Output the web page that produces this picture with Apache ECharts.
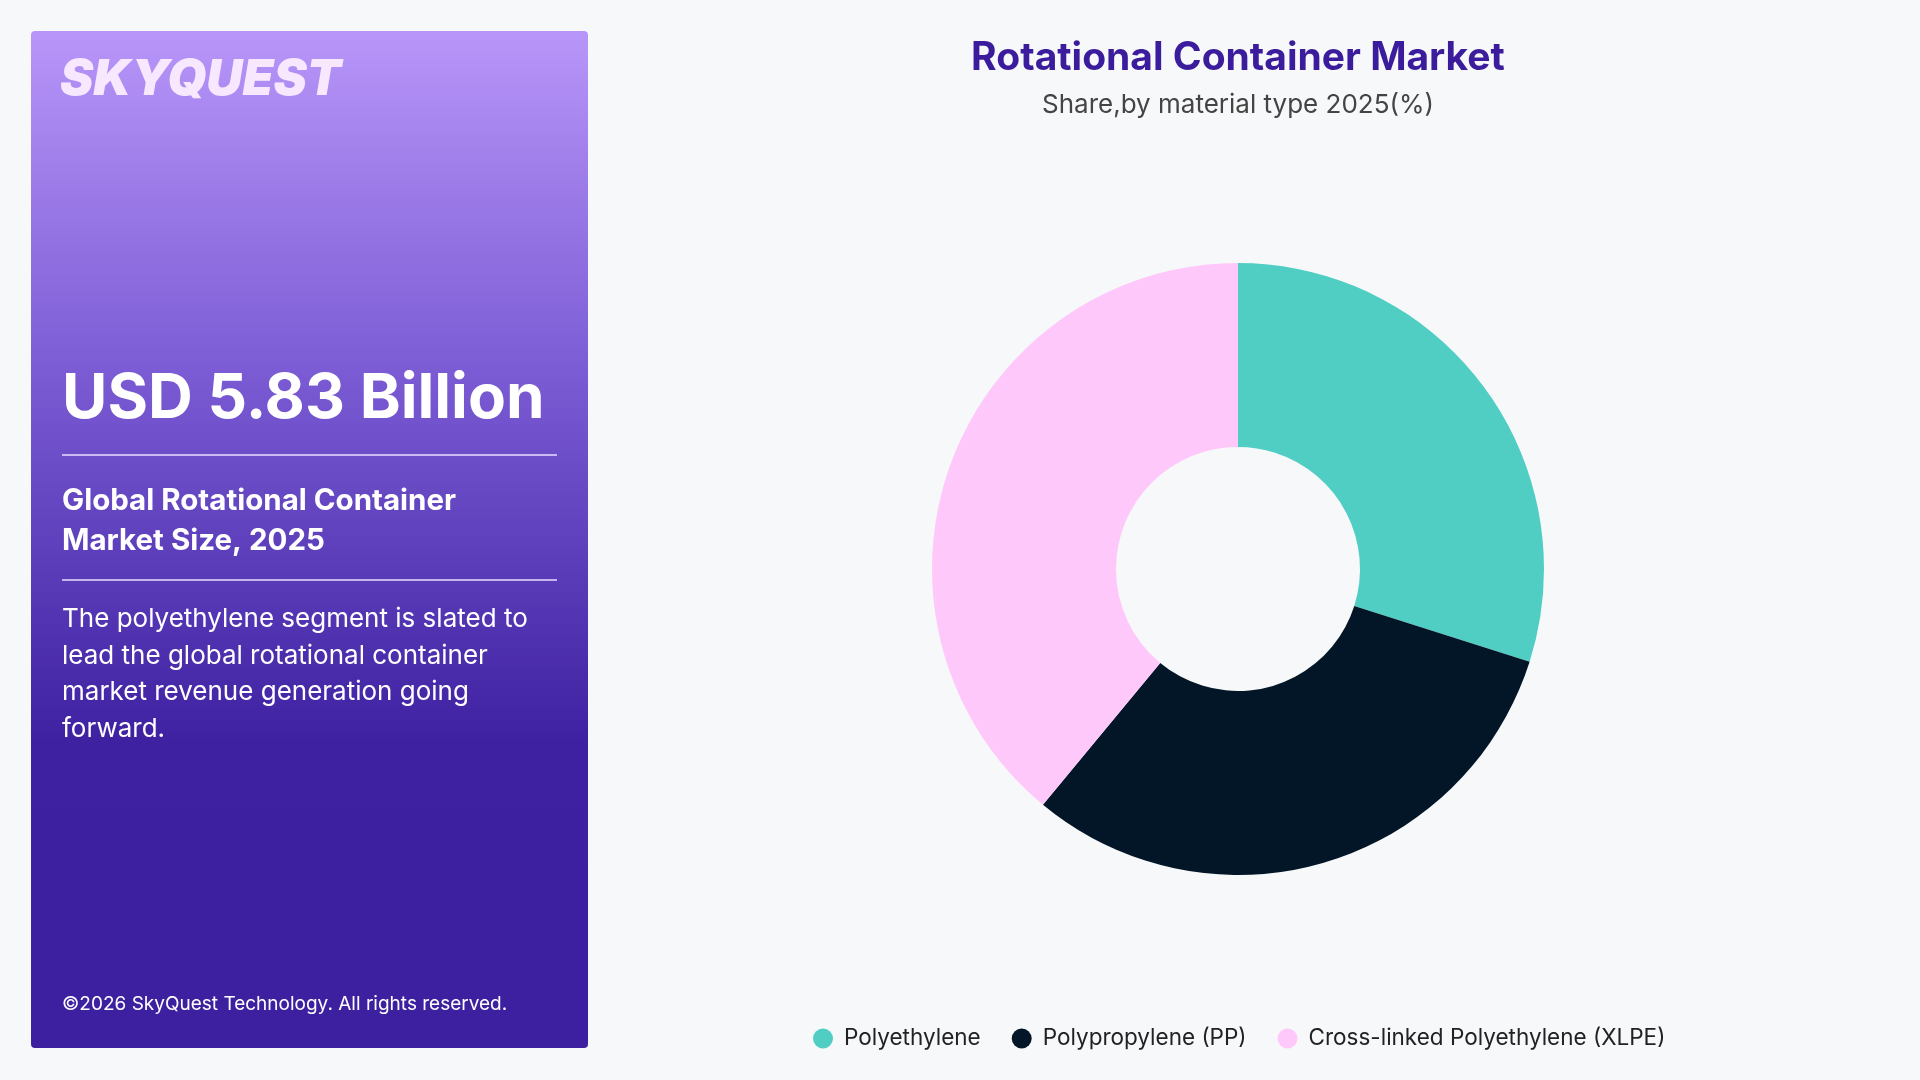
<!DOCTYPE html>
<html>
<head>
<meta charset="utf-8">
<script src="https://cdn.jsdelivr.net/npm/echarts@6/dist/echarts.min.js"></script>
<style>
  html, body { margin: 0; padding: 0; background: #f7f8fa; }
  #chart { width: 1920px; height: 1080px; }
</style>
</head>
<body>
<div id="chart"></div>
<script>
// material types and their 2025 share (%)
const categories = ['Polyethylene', 'Polypropylene (PP)', 'Cross-linked Polyethylene (XLPE)'];
const shares = [29.9, 31.1, 39.0];
const colors = ['#50cec4', '#021627', '#ffc8fb'];

const font = 'Inter, "Open Sans", sans-serif';
const chart = echarts.init(document.getElementById('chart'));

const option = {
  backgroundColor: '#f7f8fa',
  title: {
    text: 'Rotational Container Market',
    subtext: 'Share,by material type 2025(%)',
    left: 1233,
    top: 34,
    textAlign: 'center',
    itemGap: 14,
    textStyle: { fontFamily: font, fontSize: 39, fontWeight: 'bold', color: '#3a1c9c' },
    subtextStyle: { fontFamily: font, fontSize: 26, color: '#444444' },
  },
  legend: {
    left: 808,
    top: 1022,
    icon: 'circle',
    itemWidth: 20,
    itemHeight: 20,
    itemGap: 31,
    textStyle: { fontFamily: font, fontSize: 22.5, color: '#222222', padding: [0, 0, 0, 6] },
    data: categories,
  },
  graphic: [
    {
      type: 'rect',
      shape: { x: 31, y: 31, width: 557, height: 1017, r: 4 },
      style: {
        fill: new echarts.graphic.LinearGradient(0, 0, 0, 1, [
          { offset: 0, color: '#b896f9' },
          { offset: 0.35, color: '#7859d2' },
          { offset: 0.7, color: '#3e21a1' },
          { offset: 1, color: '#3c20a0' },
        ]),
      },
    },
    {
      type: 'text', left: 60, top: 55,
      style: { text: 'SKYQUEST', fill: '#f8e8ff', font: 'italic 900 50px ' + font },
    },
    {
      type: 'text', left: 62, top: 368,
      style: { text: 'USD 5.83 Billion', fill: '#ffffff', font: 'bold 62px ' + font },
    },
    {
      type: 'line', shape: { x1: 62, y1: 455, x2: 557, y2: 455 },
      style: { stroke: '#e8e0ff', lineWidth: 1.5 },
    },
    {
      type: 'text', left: 62, top: 481,
      style: {
        text: 'Global Rotational Container\nMarket Size, 2025',
        fill: '#ffffff', font: 'bold 29.5px ' + font, lineHeight: 40,
      },
    },
    {
      type: 'line', shape: { x1: 62, y1: 580, x2: 557, y2: 580 },
      style: { stroke: '#e8e0ff', lineWidth: 1.5 },
    },
    {
      type: 'text', left: 62, top: 601,
      style: {
        text: 'The polyethylene segment is slated to\nlead the global rotational container\nmarket revenue generation going\nforward.',
        fill: '#ffffff', font: '26px ' + font, lineHeight: 36.5,
      },
    },
    {
      type: 'text', left: 62, top: 995,
      style: { text: '©2026 SkyQuest Technology. All rights reserved.', fill: '#ffffff', font: '19px ' + font },
    },
  ],
  series: [
    {
      name: 'Share',
      type: 'pie',
      center: [1238, 569],
      radius: [122, 306],
      startAngle: 90,
      clockwise: true,
      label: { show: false },
      labelLine: { show: false },
      emphasis: { scale: false },
      data: categories.map((name, i) => ({
        name,
        value: shares[i],
        itemStyle: { color: colors[i] },
      })),
    },
  ],
};

chart.setOption(option);
</script>
</body>
</html>
